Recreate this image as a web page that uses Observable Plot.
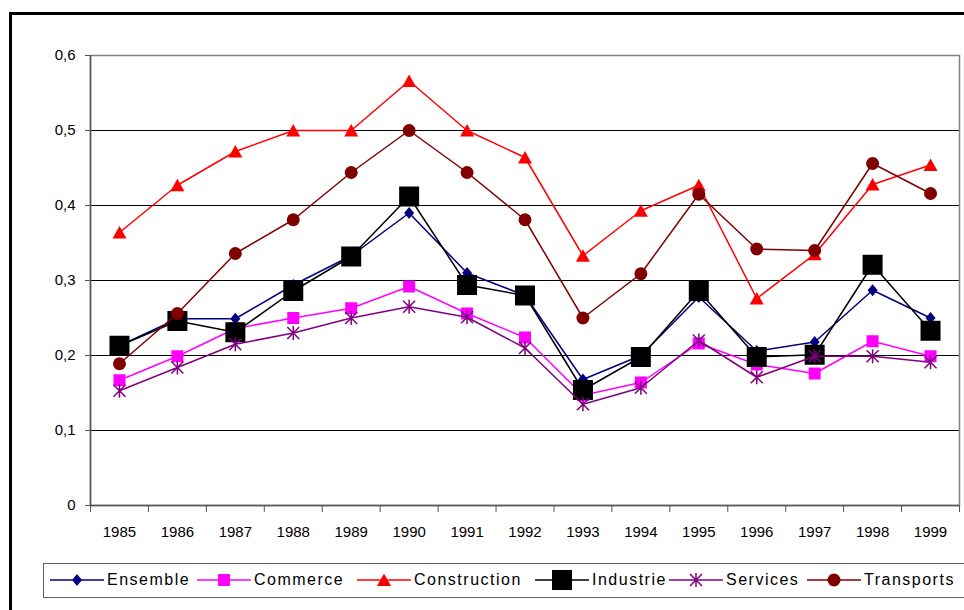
<!DOCTYPE html>
<html>
<head>
<meta charset="utf-8">
<script src="https://cdn.jsdelivr.net/npm/d3@7"></script>
<script src="https://cdn.jsdelivr.net/npm/@observablehq/plot@0.6"></script>
<style>
  html, body { margin: 0; padding: 0; background: #fff; }
  #wrap { position: relative; width: 964px; height: 610px; overflow: hidden; font-family: "Liberation Sans", Arial, sans-serif; }
  #outer { position: absolute; left: 9px; top: 12px; width: 1000px; height: 700px; border-top: 3px solid #000; border-left: 3px solid #000; box-sizing: border-box; }
  #chart { position: absolute; left: 0; top: 0; }
  #legend { position: absolute; left: 43px; top: 563px; width: 960px; height: 35px; box-sizing: border-box; border: 1px solid #606060; background: #fff; }
  .item { position: absolute; top: 4px; display: flex; align-items: center; }
  .item span { font-size: 16px; letter-spacing: 1.5px; margin-left: 3px; color: #000; white-space: nowrap; }
</style>
</head>
<body>
<div id="wrap">
  <div id="outer"></div>
  <div id="chart"></div>
  <div id="legend"></div>
</div>
<script>
// ---- Data ----
const years = [1985, 1986, 1987, 1988, 1989, 1990, 1991, 1992, 1993, 1994, 1995, 1996, 1997, 1998, 1999];
const ensemble     = [0.213, 0.249, 0.249, 0.294, 0.333, 0.390, 0.310, 0.280, 0.168, 0.200, 0.278, 0.206, 0.218, 0.287, 0.250];
const commerce     = [0.167, 0.199, 0.236, 0.250, 0.263, 0.292, 0.256, 0.224, 0.147, 0.164, 0.216, 0.188, 0.176, 0.219, 0.199];
const construction = [0.364, 0.427, 0.472, 0.500, 0.500, 0.566, 0.500, 0.464, 0.333, 0.393, 0.427, 0.276, 0.335, 0.428, 0.454];
const industrie    = [0.213, 0.246, 0.231, 0.286, 0.332, 0.412, 0.294, 0.280, 0.154, 0.198, 0.286, 0.198, 0.201, 0.321, 0.233];
const services     = [0.153, 0.184, 0.215, 0.230, 0.250, 0.265, 0.251, 0.210, 0.135, 0.157, 0.220, 0.171, 0.199, 0.199, 0.191];
const transports   = [0.189, 0.256, 0.336, 0.381, 0.444, 0.500, 0.444, 0.381, 0.250, 0.309, 0.415, 0.342, 0.340, 0.456, 0.416];
const seriesNames  = ["Ensemble", "Commerce", "Construction", "Industrie", "Services", "Transports"];
const seriesValues = [ensemble, commerce, construction, industrie, services, transports];
const yTicks = [0, 0.1, 0.2, 0.3, 0.4, 0.5, 0.6];

// ---- Styles / layout ----
const sym = (f) => ({ draw(ctx) { f(ctx); } });
const diamond = sym(c => { c.moveTo(0, -6); c.lineTo(5, 0); c.lineTo(0, 6); c.lineTo(-5, 0); c.closePath(); });
const smallSquare = sym(c => { c.rect(-6, -6, 12, 12); });
const triangle = sym(c => { c.moveTo(0, -6.5); c.lineTo(7, 6); c.lineTo(-7, 6); c.closePath(); });
const bigSquare = sym(c => { c.rect(-10, -10, 20, 20); });
const star = sym(c => { c.moveTo(-6, -6); c.lineTo(6, 6); c.moveTo(6, -6); c.lineTo(-6, 6); c.moveTo(0, -7); c.lineTo(0, 7); });
const circle = sym(c => { c.moveTo(6.5, 0); c.arc(0, 0, 6.5, 0, 2 * Math.PI); c.closePath(); });
const styles = {
  Ensemble:     { color: "#000080", symbol: diamond, filled: true },
  Commerce:     { color: "#ff00ff", symbol: smallSquare, filled: true },
  Construction: { color: "#ff0000", symbol: triangle, filled: true },
  Industrie:    { color: "#000000", symbol: bigSquare, filled: true },
  Services:     { color: "#800080", symbol: star, filled: false },
  Transports:   { color: "#800000", symbol: circle, filled: true }
};
const legendLeft = { Ensemble: 6, Commerce: 153, Construction: 313, Industrie: 491, Services: 625, Transports: 763 };

const boundaries = years.map(y => y - 0.5).concat([years[years.length - 1] + 0.5]);

const marks = [
  Plot.gridY(yTicks.filter(v => v > 0 && v < 0.6), { stroke: "#000", strokeOpacity: 1, strokeWidth: 1 }),
  Plot.frame({ stroke: "#808080", strokeWidth: 1.5 }),
  Plot.ruleX([years[0] - 0.5], { stroke: "#555", strokeWidth: 1.5 }),
  Plot.ruleY([0], { stroke: "#555", strokeWidth: 1.5 }),
  Plot.axisY(yTicks, { anchor: "left", tickSize: 5, tickPadding: 10, fontSize: 15, stroke: "#555", label: null,
    tickFormat: d => d === 0 ? "0" : d.toFixed(1).replace(".", ",") }),
  Plot.axisX(boundaries, { anchor: "bottom", tickSize: 7, stroke: "#555", tickFormat: () => "", label: null }),
  Plot.axisX(years, { anchor: "bottom", tickSize: 0, tickPadding: 21, fontSize: 15, tickFormat: d => String(d), label: null })
];

seriesNames.forEach((name, i) => {
  const st = styles[name];
  const data = years.map((yr, j) => ({ year: yr, value: seriesValues[i][j] }));
  marks.push(Plot.line(data, { x: "year", y: "value", stroke: st.color, strokeWidth: 1.5 }));
  marks.push(Plot.dot(data, {
    x: "year", y: "value", symbol: st.symbol,
    fill: st.filled ? st.color : "none",
    stroke: st.filled ? "none" : st.color,
    strokeWidth: 1.5
  }));
});

const chart = Plot.plot({
  width: 964,
  height: 610,
  marginLeft: 90,
  marginRight: 5,
  marginTop: 55,
  marginBottom: 105,
  style: { fontFamily: "'Liberation Sans', Arial, sans-serif", fontSize: "15px", background: "transparent", color: "#000" },
  x: { type: "linear", domain: [years[0] - 0.5, years[years.length - 1] + 0.5], axis: null },
  y: { domain: [0, 0.6], axis: null },
  marks
});
document.getElementById("chart").appendChild(chart);

// ---- Legend ----
const legend = document.getElementById("legend");
seriesNames.forEach(name => {
  const st = styles[name];
  const item = document.createElement("div");
  item.className = "item";
  item.style.left = legendLeft[name] + "px";
  const sw = d3.create("svg").attr("width", 54).attr("height", 24);
  sw.append("line").attr("x1", 0).attr("x2", 54).attr("y1", 12).attr("y2", 12).attr("stroke", st.color).attr("stroke-width", 1.5);
  const p = d3.path();
  st.symbol.draw(p);
  sw.append("path").attr("transform", "translate(27,12)").attr("d", p.toString())
    .attr("fill", st.filled ? st.color : "none").attr("stroke", st.filled ? "none" : st.color).attr("stroke-width", 1.5);
  item.appendChild(sw.node());
  const t = document.createElement("span");
  t.textContent = name;
  item.appendChild(t);
  legend.appendChild(item);
});
</script>
</body>
</html>
